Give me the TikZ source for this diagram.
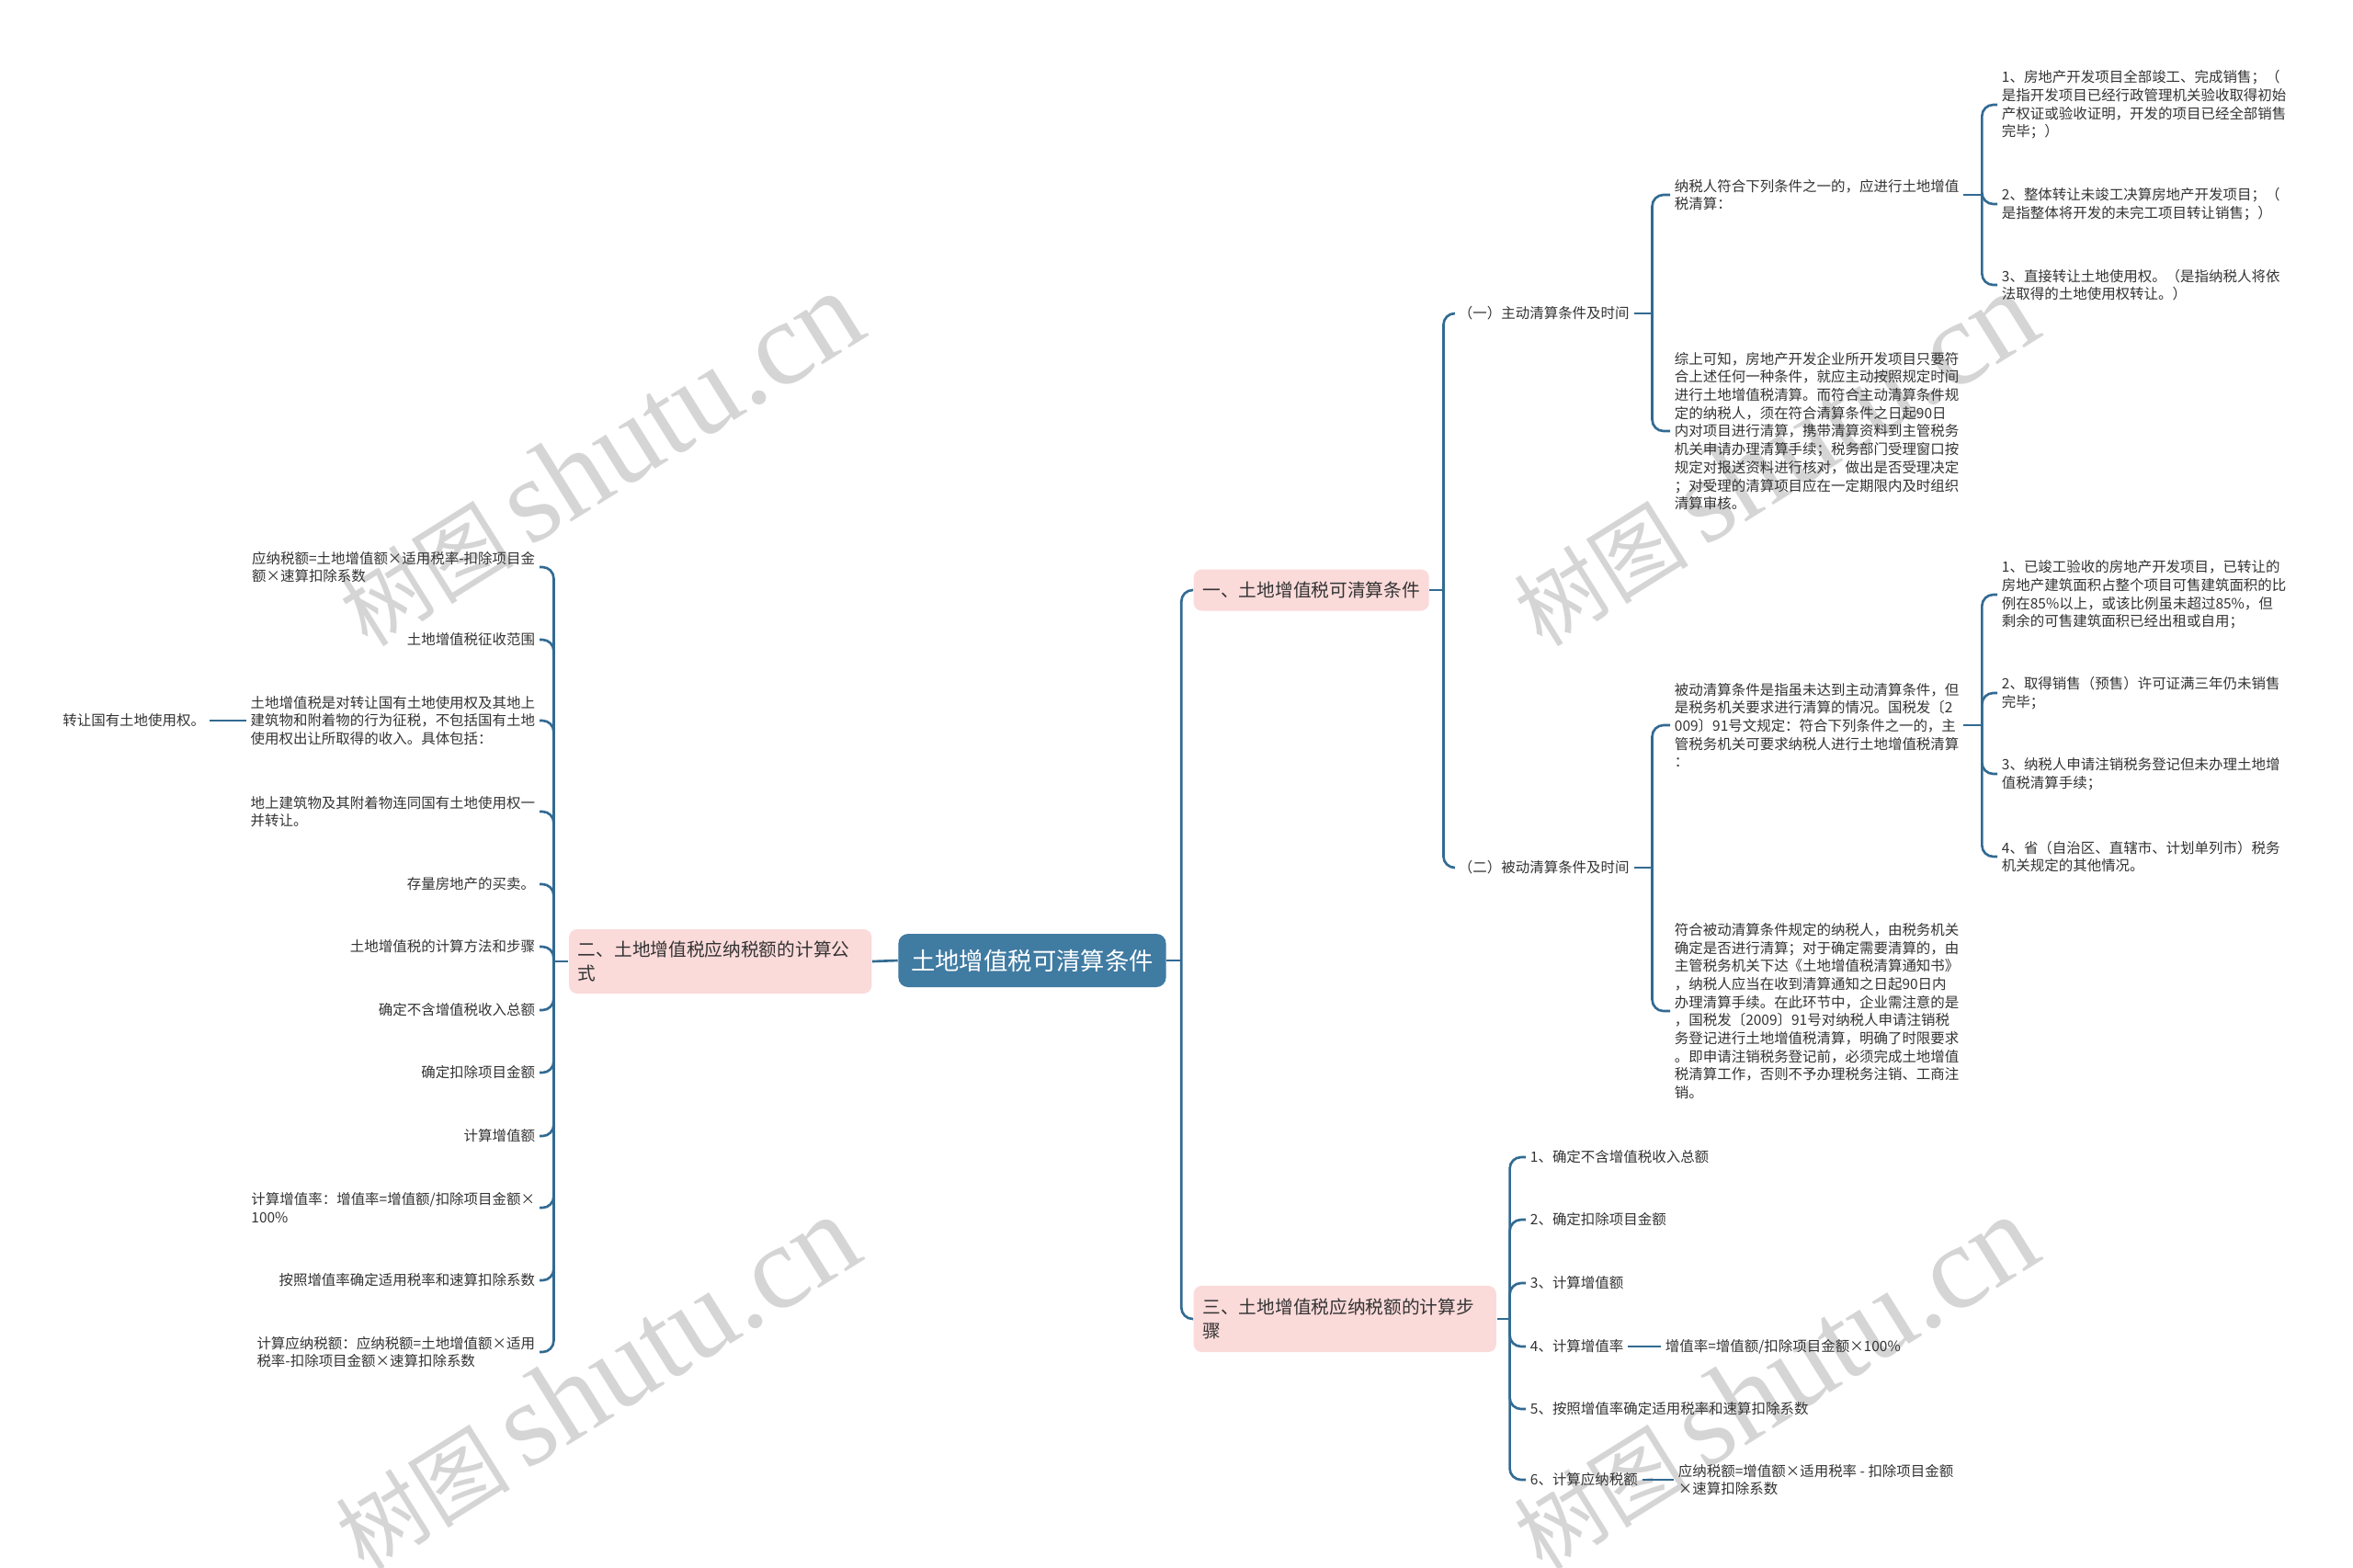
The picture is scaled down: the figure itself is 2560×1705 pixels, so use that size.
\documentclass[tikz,border=0pt]{standalone}
\usepackage{fontspec}
\setmainfont{Noto Sans CJK SC}
\newfontfamily\wmlatin{Liberation Serif}
\usepackage{tikz}
\usepackage{xcolor}
\definecolor{rootblue}{RGB}{64,123,162}
\definecolor{linkblue}{RGB}{50,106,146}
\definecolor{pinkbox}{RGB}{251,218,218}
\definecolor{textgray}{RGB}{51,51,51}
\definecolor{wmgray}{RGB}{200,200,200}
\tikzset{>=latex}
\tikzstyle{mmline}=[draw=linkblue, line width=0.75pt, rounded corners=3.5pt]
\tikzstyle{leaf}=[inner xsep=1.2pt, inner ysep=0.5pt, text=textgray, align=left, font=\fontsize{4.4}{5.6}\selectfont]
\tikzstyle{leafr}=[leaf, anchor=west]
\tikzstyle{leafl}=[leaf, anchor=east]
\tikzstyle{topic}=[fill=pinkbox, rounded corners=2.5pt, text=textgray, align=left, font=\fontsize{5.6}{7.4}\selectfont, anchor=west, inner xsep=2.8pt]
\tikzstyle{rootbox}=[fill=rootblue, rounded corners=3pt, text=white, font=\fontsize{7.5}{9}\selectfont, minimum width=82.8pt, minimum height=16.5pt]
\tikzstyle{wmark}=[text=wmgray, rotate=32, opacity=0.75]
\newcommand{\wmtext}{{\fontsize{27}{27}\selectfont 树图}\hspace{5pt}{\wmlatin\fontsize{37}{37}\selectfont shutu.cn}}

\begin{document}
\begin{tikzpicture}[x=0.01cm, y=-0.01cm]
    % Canvas
    \fill[white] (0,0) rectangle (2560,1705);
    \useasboundingbox (0,0) rectangle (2560,1705);

    % Watermarks
    \node[wmark] (wm1) at (652,500) {\wmtext};
    \node[wmark] (wm2) at (1930,500) {\wmtext};
    \node[wmark] (wm3) at (648,1505) {\wmtext};
    \node[wmark] (wm4) at (1930,1505) {\wmtext};

    % Central topic and main branches
    \node[rootbox] (root) at (1123,1045) {土地增值税可清算条件};
    \node[topic, anchor=east, text width=88pt, minimum height=19.9pt] (b2) at (949,1046) {二、土地增值税应纳税额的计算公\\式};
    \node[topic, minimum height=12.8pt] (b1) at (1298,642) {一、土地增值税可清算条件};
    \node[topic, text width=88pt, minimum height=20.5pt] (b3) at (1298,1435) {三、土地增值税应纳税额的计算步\\骤};

    % Left side: calculation formula
    \node[leafl] (l1) at (587,617) {应纳税额=土地增值额×适用税率-扣除项目金\\额×速算扣除系数};
    \node[leafl] (l2) at (587,696) {土地增值税征收范围};
    \node[leafl] (l3) at (587,784) {土地增值税是对转让国有土地使用权及其地上\\建筑物和附着物的行为征税，不包括国有土地\\使用权出让所取得的收入。具体包括：};
    \node[leafl] (l3a) at (228,784) {转让国有土地使用权。};
    \node[leafl] (l4) at (587,883) {地上建筑物及其附着物连同国有土地使用权一\\并转让。};
    \node[leafl] (l5) at (587,962) {存量房地产的买卖。};
    \node[leafl] (l6) at (587,1030) {土地增值税的计算方法和步骤};
    \node[leafl] (l7) at (587,1099) {确定不含增值税收入总额};
    \node[leafl] (l8) at (587,1167) {确定扣除项目金额};
    \node[leafl] (l9) at (587,1236) {计算增值额};
    \node[leafl] (l10) at (587,1314) {计算增值率：增值率=增值额/扣除项目金额×\\100\%};
    \node[leafl] (l11) at (587,1393) {按照增值率确定适用税率和速算扣除系数};
    \node[leafl] (l12) at (587,1471) {计算应纳税额：应纳税额=土地增值额×适用\\税率-扣除项目金额×速算扣除系数};

    % Right side, branch one
    \node[leafr] (r1) at (1582,341) {（一）主动清算条件及时间};
    \node[leafr] (r2) at (1582,944) {（二）被动清算条件及时间};

    \node[leafr] (r1a) at (1817,212) {纳税人符合下列条件之一的，应进行土地增值\\税清算：};
    \node[leafr] (r1b) at (1817,469) {综上可知，房地产开发企业所开发项目只要符\\合上述任何一种条件，就应主动按照规定时间\\进行土地增值税清算。而符合主动清算条件规\\定的纳税人，须在符合清算条件之日起90日\\内对项目进行清算，携带清算资料到主管税务\\机关申请办理清算手续；税务部门受理窗口按\\规定对报送资料进行核对，做出是否受理决定\\；对受理的清算项目应在一定期限内及时组织\\清算审核。};

    \node[leafr] (r1a1) at (2173,114) {1、房地产开发项目全部竣工、完成销售；（\\是指开发项目已经行政管理机关验收取得初始\\产权证或验收证明，开发的项目已经全部销售\\完毕；）};
    \node[leafr] (r1a2) at (2173,222) {2、整体转让未竣工决算房地产开发项目；（\\是指整体将开发的未完工项目转让销售；）};
    \node[leafr] (r1a3) at (2173,310) {3、直接转让土地使用权。（是指纳税人将依\\法取得的土地使用权转让。）};

    \node[leafr] (r2a) at (1817,789) {被动清算条件是指虽未达到主动清算条件，但\\是税务机关要求进行清算的情况。国税发〔2\\009〕91号文规定：符合下列条件之一的，主\\管税务机关可要求纳税人进行土地增值税清算\\：};
    \node[leafr] (r2b) at (1817,1100) {符合被动清算条件规定的纳税人，由税务机关\\确定是否进行清算；对于确定需要清算的，由\\主管税务机关下达《土地增值税清算通知书》\\，纳税人应当在收到清算通知之日起90日内\\办理清算手续。在此环节中，企业需注意的是\\，国税发〔2009〕91号对纳税人申请注销税\\务登记进行土地增值税清算，明确了时限要求\\。即申请注销税务登记前，必须完成土地增值\\税清算工作，否则不予办理税务注销、工商注\\销。};

    \node[leafr] (r2a1) at (2173,647) {1、已竣工验收的房地产开发项目，已转让的\\房地产建筑面积占整个项目可售建筑面积的比\\例在85\%以上，或该比例虽未超过85\%，但\\剩余的可售建筑面积已经出租或自用；};
    \node[leafr] (r2a2) at (2173,754) {2、取得销售（预售）许可证满三年仍未销售\\完毕；};
    \node[leafr] (r2a3) at (2173,842) {3、纳税人申请注销税务登记但未办理土地增\\值税清算手续；};
    \node[leafr] (r2a4) at (2173,932) {4、省（自治区、直辖市、计划单列市）税务\\机关规定的其他情况。};

    % Right side, branch three
    \node[leafr] (s1) at (1660,1259) {1、确定不含增值税收入总额};
    \node[leafr] (s2) at (1660,1327) {2、确定扣除项目金额};
    \node[leafr] (s3) at (1660,1396) {3、计算增值额};
    \node[leafr] (s4) at (1660,1465) {4、计算增值率};
    \node[leafr] (s5) at (1660,1533) {5、按照增值率确定适用税率和速算扣除系数};
    \node[leafr] (s6) at (1660,1610) {6、计算应纳税额};
    \node[leafr] (s4a) at (1807,1465) {增值率=增值额/扣除项目金额×100\%};
    \node[leafr] (s6a) at (1821,1610) {应纳税额=增值额×适用税率 - 扣除项目金额\\×速算扣除系数};

    % Connectors
    \draw[mmline] (root.west) -- (b2.east);
    \draw[mmline] (root.east) -- ++(16,0) coordinate (rb);
    \draw[mmline] (rb) |- (b1.west);
    \draw[mmline] (rb) |- (b3.west);

    \draw[mmline] (b2.west) -- ++(-16,0) coordinate (lb);
    \foreach \i in {1,...,12} \draw[mmline] (lb) |- (l\i.east);
    \draw[mmline] (l3.west) -- (l3a.east);

    \draw[mmline] (b1.east) -- ++(15,0) coordinate (b1b);
    \draw[mmline] (b1b) |- (r1.west);
    \draw[mmline] (b1b) |- (r2.west);

    \draw[mmline] (r1.east) -- ++(20,0) coordinate (r1c);
    \draw[mmline] (r1c) |- (r1a.west);
    \draw[mmline] (r1c) |- (r1b.west);
    \draw[mmline] (r1a.east) -- ++(20,0) coordinate (r1ac);
    \foreach \i in {1,2,3} \draw[mmline] (r1ac) |- (r1a\i.west);

    \draw[mmline] (r2.east) -- ++(20,0) coordinate (r2c);
    \draw[mmline] (r2c) |- (r2a.west);
    \draw[mmline] (r2c) |- (r2b.west);
    \draw[mmline] (r2a.east) -- ++(20,0) coordinate (r2ac);
    \foreach \i in {1,2,3,4} \draw[mmline] (r2ac) |- (r2a\i.west);

    \draw[mmline] (b3.east) -- ++(14,0) coordinate (b3b);
    \foreach \i in {1,...,6} \draw[mmline] (b3b) |- (s\i.west);
    \draw[mmline] (s4.east) -- (s4a.west);
    \draw[mmline] (s6.east) -- (s6a.west);
\end{tikzpicture}
\end{document}
